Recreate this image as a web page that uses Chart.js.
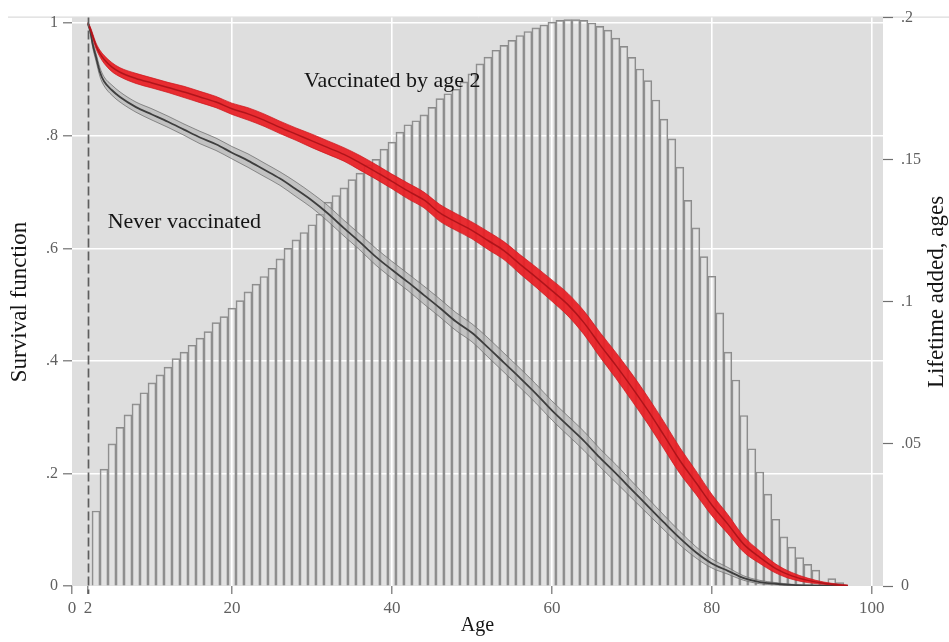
<!DOCTYPE html>
<html>
<head>
<meta charset="utf-8">
<script src="https://cdn.jsdelivr.net/npm/chart.js@4/dist/chart.umd.min.js"></script>
<style>
html,body{margin:0;padding:0;background:#ffffff;}
#wrap{width:949px;height:642px;position:relative;}
canvas{display:block;}
</style>
</head>
<body>
<div id="wrap"><canvas id="c" width="949" height="642"></canvas></div>
<script>
// ---------------- DATA ----------------
const vaccinationAge = 2;

// Histogram: lifetime added, by age (right axis)
const barAges = [3,4,5,6,7,8,9,10,11,12,13,14,15,16,17,18,19,20,21,22,23,24,25,26,27,28,29,30,31,32,33,34,35,36,37,38,39,40,41,42,43,44,45,46,47,48,49,50,51,52,53,54,55,56,57,58,59,60,61,62,63,64,65,66,67,68,69,70,71,72,73,74,75,76,77,78,79,80,81,82,83,84,85,86,87,88,89,90,91,92,93,94,95,96];
const lifetimeAdded = [0.0264,0.0411,0.0500,0.0558,0.0602,0.0641,0.0680,0.0715,0.0743,0.0770,0.0800,0.0823,0.0847,0.0872,0.0895,0.0927,0.0948,0.0978,0.1004,0.1035,0.1062,0.1089,0.1118,0.1151,0.1188,0.1218,0.1244,0.1271,0.1308,0.1351,0.1374,0.1401,0.1430,0.1453,0.1482,0.1501,0.1537,0.1562,0.1597,0.1623,0.1637,0.1658,0.1684,0.1715,0.1732,0.1748,0.1774,0.1802,0.1837,0.1861,0.1885,0.1902,0.1920,0.1937,0.1951,0.1964,0.1974,0.1984,0.1990,0.1993,0.1993,0.1990,0.1981,0.1969,0.1956,0.1928,0.1899,0.1860,0.1819,0.1778,0.1710,0.1643,0.1573,0.1474,0.1357,0.1260,0.1159,0.1090,0.0961,0.0823,0.0725,0.0600,0.0483,0.0401,0.0323,0.0235,0.0173,0.0137,0.0100,0.0076,0.0056,0.0009,0.0026,0.0012];

// Survival curves (left axis)
const survAges = [2,2.3,2.6,3,3.5,4,5,6,8,10,12,14,16,18,20,22,24,26,28,30,32,34,36,38,40,42,44,46,48,50,52,54,56,58,60,62,64,66,68,70,72,74,76,78,80,82,84,86,88,90,92,94,96,97];

const vaccinatedMid = [1.000,0.990,0.977,0.960,0.946,0.936,0.922,0.913,0.902,0.894,0.886,0.878,0.869,0.860,0.848,0.839,0.828,0.815,0.803,0.791,0.779,0.767,0.752,0.736,0.719,0.702,0.686,0.663,0.647,0.632,0.614,0.596,0.572,0.549,0.525,0.500,0.468,0.429,0.392,0.353,0.312,0.268,0.223,0.184,0.144,0.110,0.074,0.051,0.031,0.018,0.010,0.005,0.002,0.001];
const vaccinatedHi = [1.002,0.993,0.981,0.965,0.952,0.943,0.930,0.921,0.911,0.903,0.895,0.888,0.879,0.870,0.858,0.850,0.839,0.826,0.814,0.803,0.791,0.779,0.765,0.749,0.732,0.716,0.700,0.678,0.662,0.647,0.630,0.612,0.589,0.567,0.544,0.520,0.489,0.451,0.415,0.377,0.336,0.292,0.246,0.205,0.163,0.127,0.088,0.062,0.039,0.024,0.014,0.007,0.003,0.0015];
const vaccinatedLo = [0.998,0.987,0.973,0.955,0.940,0.929,0.914,0.905,0.893,0.885,0.877,0.868,0.859,0.850,0.838,0.828,0.817,0.804,0.792,0.779,0.767,0.755,0.739,0.723,0.706,0.688,0.672,0.648,0.632,0.617,0.598,0.580,0.555,0.531,0.506,0.480,0.447,0.407,0.369,0.329,0.288,0.244,0.200,0.163,0.125,0.093,0.060,0.040,0.023,0.012,0.006,0.003,0.001,0.0005];

const neverMid = [1.000,0.985,0.962,0.940,0.913,0.897,0.881,0.869,0.851,0.838,0.825,0.811,0.797,0.785,0.770,0.756,0.740,0.724,0.705,0.685,0.662,0.636,0.611,0.585,0.562,0.540,0.517,0.494,0.470,0.450,0.424,0.397,0.370,0.342,0.312,0.285,0.258,0.228,0.200,0.171,0.142,0.113,0.085,0.060,0.040,0.027,0.014,0.007,0.004,0.002,0.001,0.0005,0.0002,0.0001];
const neverHi = [1.002,0.989,0.968,0.947,0.921,0.905,0.890,0.878,0.860,0.848,0.835,0.821,0.808,0.796,0.781,0.768,0.752,0.736,0.718,0.698,0.676,0.650,0.625,0.600,0.577,0.555,0.533,0.510,0.486,0.466,0.441,0.414,0.387,0.359,0.329,0.302,0.275,0.244,0.216,0.186,0.156,0.126,0.097,0.070,0.048,0.033,0.018,0.010,0.006,0.003,0.0015,0.0008,0.0003,0.0001];
const neverLo = [0.998,0.981,0.956,0.933,0.905,0.889,0.872,0.860,0.842,0.828,0.815,0.801,0.786,0.774,0.759,0.744,0.728,0.712,0.692,0.672,0.648,0.622,0.597,0.570,0.547,0.525,0.501,0.478,0.454,0.434,0.407,0.380,0.353,0.325,0.295,0.268,0.241,0.212,0.184,0.156,0.128,0.100,0.073,0.050,0.032,0.021,0.010,0.004,0.002,0.001,0.0005,0.0002,0.0001,0.0001];

// Tick labels
const xTickValues = [0,2,20,40,60,80,100];
const yLeftTicks = [0,0.2,0.4,0.6,0.8,1];
const yLeftLabels = ['0','.2','.4','.6','.8','1'];
const yRightTicks = [0,0.05,0.1,0.15,0.2];
const yRightLabels = ['0','.05','.1','.15','.2'];

// Texts
const xTitle = 'Age';
const yLeftTitle = 'Survival function';
const yRightTitle = 'Lifetime added, ages';
const seriesLabels = ['Vaccinated by age 2','Never vaccinated'];

// ---------------- LAYOUT / STYLE ----------------
const FONT = "'Liberation Serif','Times New Roman',serif";
const labelPos = [{x:29.0, y:0.887},{x:4.46, y:0.637}];

const pts = (xs, ys) => xs.map((x,i)=>({x:x, y:ys[i]}));

const deco = {
  id:'deco',
  beforeDraw(chart){
    const {ctx, chartArea:a} = chart;
    ctx.save();
    ctx.fillStyle = '#dedede';
    ctx.fillRect(a.left, a.top, a.right-a.left, a.bottom-a.top);
    ctx.strokeStyle = '#d2d2d2';
    ctx.lineWidth = 1;
    ctx.beginPath();
    ctx.moveTo(8, a.top-0.5);
    ctx.lineTo(chart.width, a.top-0.5);
    ctx.stroke();
    ctx.restore();
  },
  afterDatasetsDraw(chart){
    const {ctx, chartArea:a, scales} = chart;
    ctx.save();
    const xp = Math.round(scales.x.getPixelForValue(vaccinationAge)) + 0.5;
    ctx.strokeStyle = '#5e5e5e';
    ctx.lineWidth = 1.7;
    ctx.setLineDash([9,4]);
    ctx.beginPath();
    ctx.moveTo(xp, a.top);
    ctx.lineTo(xp, a.bottom + 8);
    ctx.stroke();
    ctx.setLineDash([]);
    ctx.fillStyle = '#141414';
    ctx.font = '22px ' + FONT;
    ctx.textAlign = 'left';
    ctx.textBaseline = 'alphabetic';
    seriesLabels.forEach((t,i)=>{
      ctx.fillText(t, scales.x.getPixelForValue(labelPos[i].x), scales.y.getPixelForValue(labelPos[i].y));
    });
    ctx.restore();
  },
  afterDraw(chart){
    const {ctx, chartArea:a} = chart;
    ctx.save();
    ctx.fillStyle = '#141414';
    ctx.textAlign = 'center';
    ctx.textBaseline = 'middle';
    ctx.font = '20px ' + FONT;
    ctx.fillText(xTitle, (a.left+a.right)/2, 626);
    ctx.font = '23px ' + FONT;
    ctx.save();
    ctx.translate(20, 302);
    ctx.rotate(-Math.PI/2);
    ctx.fillText(yLeftTitle, 0, 0);
    ctx.restore();
    ctx.save();
    ctx.translate(937, 292);
    ctx.rotate(-Math.PI/2);
    ctx.fillText(yRightTitle, 0, 0);
    ctx.restore();
    ctx.restore();
  }
};

const bandRed = 'rgba(232,30,36,0.93)';
const edgeRed = 'rgba(205,22,28,0.9)';
const midRed = 'rgba(170,18,24,0.9)';
const bandGray = 'rgba(175,175,175,0.6)';
const edgeGray = 'rgba(110,110,110,0.85)';
const midGray = '#3e3e3e';

const lineBase = {type:'line', yAxisID:'y', xAxisID:'x', pointRadius:0, cubicInterpolationMode:'monotone'};

new Chart(document.getElementById('c'), {
  type:'line',
  data:{
    datasets:[
      {type:'bar', label:'Lifetime added', data:pts(barAges, lifetimeAdded), xAxisID:'x', yAxisID:'y2',
       backgroundColor:'rgba(255,255,255,0.14)', borderColor:'#8a8a8a', borderWidth:1,
       barPercentage:1, categoryPercentage:1, order:10},
      Object.assign({}, lineBase, {label:'never lo', data:pts(survAges, neverLo), borderColor:edgeGray, borderWidth:0.9, fill:false, order:6}),
      Object.assign({}, lineBase, {label:'never hi', data:pts(survAges, neverHi), borderColor:edgeGray, borderWidth:0.9, fill:'-1', backgroundColor:bandGray, order:6}),
      Object.assign({}, lineBase, {label:'Never vaccinated', data:pts(survAges, neverMid), borderColor:midGray, borderWidth:1.8, fill:false, order:5}),
      Object.assign({}, lineBase, {label:'vacc lo', data:pts(survAges, vaccinatedLo), borderColor:edgeRed, borderWidth:0.8, fill:false, order:4}),
      Object.assign({}, lineBase, {label:'vacc hi', data:pts(survAges, vaccinatedHi), borderColor:edgeRed, borderWidth:0.8, fill:'-1', backgroundColor:bandRed, order:4}),
      Object.assign({}, lineBase, {label:'Vaccinated by age 2', data:pts(survAges, vaccinatedMid), borderColor:midRed, borderWidth:1.5, fill:false, order:3})
    ]
  },
  options:{
    responsive:false,
    animation:false,
    devicePixelRatio:1,
    layout:{padding:{top:13,left:0,right:0,bottom:0}},
    plugins:{legend:{display:false}, tooltip:{enabled:false}},
    scales:{
      x:{
        type:'linear', position:'bottom', min:0, max:101.4, offset:false,
        afterBuildTicks:s=>{ s.ticks = xTickValues.map(v=>({value:v})); },
        afterFit:s=>{ s.height = 56; },
        border:{display:false},
        grid:{offset:false, color:c=>(c.tick && c.tick.value>=20)?'#ffffff':'rgba(0,0,0,0)', lineWidth:1.6,
              drawTicks:true, tickLength:8, tickColor:'#707070', tickWidth:1.2},
        ticks:{autoSkip:false, maxRotation:0, padding:4, color:'#606060', font:{family:FONT,size:17},
               callback:v=>String(v)}
      },
      y:{
        type:'linear', position:'left', min:0, max:1.0101,
        afterBuildTicks:s=>{ s.ticks = yLeftTicks.map(v=>({value:v})); },
        afterFit:s=>{ s.width = 72; },
        border:{display:false},
        grid:{color:c=>(c.tick && c.tick.value>0)?'#ffffff':'rgba(0,0,0,0)', lineWidth:1.6,
              drawTicks:true, tickLength:9, tickColor:'#707070', tickWidth:1.2},
        ticks:{padding:5, color:'#606060', font:{family:FONT,size:16},
               callback:(v,i)=>yLeftLabels[i]}
      },
      y2:{
        type:'linear', position:'right', min:0, max:0.2,
        afterBuildTicks:s=>{ s.ticks = yRightTicks.map(v=>({value:v})); },
        afterFit:s=>{ s.width = 66; },
        border:{display:false},
        grid:{drawOnChartArea:false, drawTicks:true, tickLength:10, tickColor:'#707070', tickWidth:1.2},
        ticks:{padding:8, color:'#606060', font:{family:FONT,size:16},
               callback:(v,i)=>yRightLabels[i]}
      }
    }
  },
  plugins:[deco]
});
</script>
</body>
</html>
